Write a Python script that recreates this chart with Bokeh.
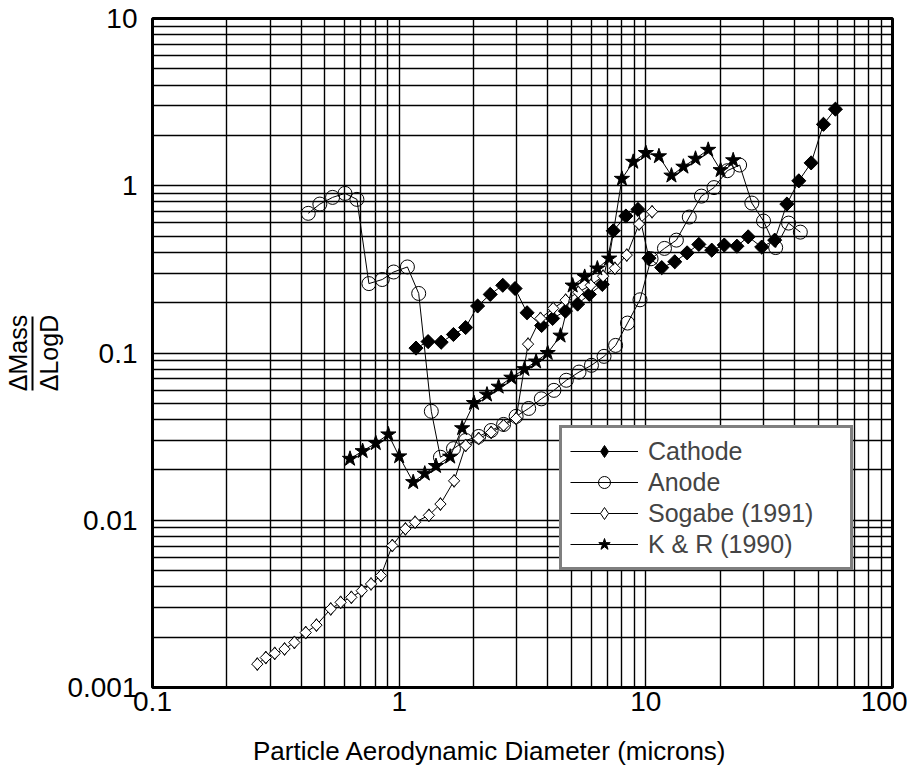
import numpy as np
from bokeh.plotting import figure
from bokeh.models import (Legend, LegendItem, CustomJSTickFormatter, FixedTicker, LogAxis)
from bokeh.embed import file_html
from bokeh.resources import INLINE

# ---------------- data ----------------
cathode_d = [1.17, 1.31, 1.48, 1.66, 1.86, 2.08, 2.34, 2.63, 2.95, 3.30, 3.78, 4.19,
             4.72, 5.29, 5.90, 6.66, 7.38, 8.30, 9.29, 10.3, 11.6, 13.1, 14.7, 16.4,
             18.5, 20.8, 23.4, 26.0, 29.5, 33.3, 37.3, 41.7, 46.8, 52.5, 58.7]
cathode_v = [0.107, 0.117, 0.116, 0.129, 0.142, 0.191, 0.224, 0.254, 0.243, 0.174, 0.146, 0.161,
             0.178, 0.196, 0.224, 0.257, 0.538, 0.659, 0.722, 0.369, 0.324, 0.351, 0.397, 0.446,
             0.412, 0.442, 0.435, 0.495, 0.430, 0.473, 0.777, 1.07, 1.37, 2.33, 2.87]

anode_d = [0.428, 0.477, 0.537, 0.603, 0.674, 0.754, 0.854, 0.950, 1.08, 1.20, 1.35, 1.47,
           1.66, 1.86, 2.10, 2.36, 2.65, 2.98, 3.35, 3.77, 4.24, 4.76, 5.36, 6.02, 6.77,
           7.54, 8.43, 9.47, 10.5, 11.9, 13.3, 15.0, 16.8, 18.9, 21.4, 24.0, 26.9, 30.0,
           33.6, 37.9, 42.3]
anode_v = [0.684, 0.777, 0.852, 0.900, 0.829, 0.260, 0.275, 0.305, 0.327, 0.227, 0.0448, 0.0238,
           0.0268, 0.0300, 0.0317, 0.0344, 0.0374, 0.0418, 0.0466, 0.0532, 0.0598, 0.0687, 0.0769,
           0.0844, 0.0955, 0.111, 0.151, 0.208, 0.366, 0.422, 0.473, 0.650, 0.867, 0.975, 1.23,
           1.33, 0.788, 0.615, 0.427, 0.598, 0.528]

sogabe_d = [0.266, 0.288, 0.313, 0.343, 0.376, 0.418, 0.462, 0.528, 0.579, 0.640, 0.705, 0.769,
            0.844, 0.938, 1.06, 1.16, 1.32, 1.47, 1.67, 1.86, 2.10, 2.36, 2.65, 2.98, 3.33,
            3.74, 4.21, 4.73, 5.32, 5.98, 6.71, 7.49, 8.37, 9.39, 10.6]
sogabe_v = [0.00138, 0.00151, 0.00160, 0.00170, 0.00186, 0.00213, 0.00236, 0.00295, 0.00323,
            0.00346, 0.00379, 0.00416, 0.00467, 0.00706, 0.00888, 0.00973, 0.0107, 0.0125,
            0.0172, 0.028, 0.0308, 0.0335, 0.0369, 0.0406, 0.113, 0.161, 0.185, 0.207, 0.231,
            0.254, 0.288, 0.321, 0.385, 0.59, 0.699]

kr_d = [0.632, 0.711, 0.804, 0.904, 1.00, 1.14, 1.27, 1.41, 1.61, 1.80, 2.01, 2.27, 2.53,
        2.85, 3.22, 3.59, 4.00, 4.51, 5.05, 5.65, 6.36, 7.10, 8.00, 8.89, 10.0, 11.3, 12.7,
        14.2, 15.9, 17.9, 20.1, 22.6]
kr_v = [0.0233, 0.0259, 0.0289, 0.0326, 0.0241, 0.0169, 0.0190, 0.0211, 0.0240, 0.0355, 0.0502,
        0.0564, 0.0629, 0.0712, 0.0801, 0.0889, 0.100, 0.127, 0.253, 0.285, 0.320, 0.367, 1.10,
        1.39, 1.57, 1.50, 1.15, 1.30, 1.45, 1.64, 1.24, 1.42]

x_major = [0.1, 1, 10, 100]
y_major = [0.001, 0.01, 0.1, 1, 10]
x_label = "Particle Aerodynamic Diameter (microns)"
y_label_top = "\u0394Mass"
y_label_bottom = "\u0394LogD"
series_names = ["Cathode", "Anode", "Sogabe (1991)", "K & R (1990)"]

FONT = "Liberation Sans"
NBSP = "\u00a0"

# ---------------- figure ----------------
p = figure(width=907, height=780, x_axis_type="log", y_axis_type="log",
           x_range=(0.1, 100), y_range=(0.001, 10),
           output_backend="svg", toolbar_location=None,
           min_border_left=150, min_border_right=15, min_border_top=18,
           min_border_bottom=93)
p.background_fill_color = "white"
p.border_fill_color = "white"
p.outline_line_color = "black"
p.outline_line_width = 3

x_minor = [m * 10.0 ** k for k in range(-1, 2) for m in range(2, 10)]
y_minor = [m * 10.0 ** k for k in range(-3, 1) for m in range(2, 10)]
p.xaxis.ticker = FixedTicker(ticks=x_major, minor_ticks=x_minor)
p.yaxis.ticker = FixedTicker(ticks=y_major, minor_ticks=y_minor)
fmt = CustomJSTickFormatter(code="return Number(tick.toPrecision(3)).toString();")
p.xaxis.formatter = fmt
p.yaxis.formatter = fmt

for ax in (p.xaxis, p.yaxis):
    ax.axis_line_color = None
    ax.major_tick_line_color = None
    ax.minor_tick_line_color = None
    ax.major_tick_out = 0
    ax.minor_tick_out = 0
    ax.major_label_text_font = FONT
    ax.major_label_text_font_size = "28px"
    ax.major_label_text_color = "black"
    ax.axis_label_text_font = FONT
    ax.axis_label_text_font_style = "normal"
    ax.axis_label_text_color = "black"
p.xaxis.major_label_standoff = 4
p.yaxis.major_label_standoff = 15

# x title (shifted a little left, as in the original)
p.xaxis.axis_label = x_label + NBSP * 9
p.xaxis.axis_label_text_font_size = "26px"
p.xaxis.axis_label_standoff = 22

# y title: denominator on the main axis, numerator + fraction bar on an extra axis
p.yaxis.axis_label = y_label_bottom
p.yaxis.axis_label_text_font_size = "25px"
p.yaxis.axis_label_standoff = 1

num_axis = LogAxis(ticker=FixedTicker(ticks=[]), axis_label=y_label_top,
                   axis_label_text_font=FONT, axis_label_text_font_size="25px",
                   axis_label_text_font_style="normal", axis_label_text_color="black",
                   axis_label_standoff=1, major_tick_out=0, major_tick_in=0,
                   minor_tick_out=0, minor_tick_in=0, major_label_standoff=0,
                   axis_line_color="black", axis_line_width=2,
                   bounds=(0.0597, 0.165))
p.add_layout(num_axis, "left")

for g in (p.xgrid, p.ygrid):
    g.grid_line_color = "black"
    g.grid_line_width = 1.4
    g.grid_line_alpha = 1.0
    g.minor_grid_line_color = "black"
    g.minor_grid_line_width = 1.4
    g.minor_grid_line_alpha = 1.0

# ---------------- series ----------------
# narrow diamonds (hidden under the plot markers) give the legend its diamond glyphs
cd_leg = p.scatter(cathode_d, cathode_v, marker="diamond", size=13,
                   fill_color="black", line_color="black")
sd_leg = p.scatter(sogabe_d, sogabe_v, marker="diamond", size=13,
                   fill_color="white", line_color="black", line_width=1)

lc = p.line(cathode_d, cathode_v, line_color="black", line_width=1)
sc = p.scatter(cathode_d, cathode_v, marker="square", angle=np.pi / 4, size=10,
               fill_color="black", line_color="black")
la = p.line(anode_d, anode_v, line_color="black", line_width=1)
sa = p.scatter(anode_d, anode_v, marker="circle", size=14,
               fill_color=None, line_color="black", line_width=1)
ls = p.line(sogabe_d, sogabe_v, line_color="black", line_width=1)
ss = p.scatter(sogabe_d, sogabe_v, marker="square", angle=np.pi / 4, size=8,
               fill_color="white", line_color="black", line_width=1)
lk = p.line(kr_d, kr_v, line_color="black", line_width=1)
sk = p.scatter(kr_d, kr_v, marker="star", size=16,
               fill_color="black", line_color="black")

legend = Legend(items=[LegendItem(label=series_names[0], renderers=[lc, cd_leg]),
                       LegendItem(label=series_names[1], renderers=[la, sa]),
                       LegendItem(label=series_names[2], renderers=[ls, sd_leg]),
                       LegendItem(label=series_names[3], renderers=[lk, sk])],
                location=(407, 117))
legend.border_line_color = "black"
legend.border_line_width = 3
legend.background_fill_color = "white"
legend.background_fill_alpha = 1.0
legend.label_text_font = FONT
legend.label_text_font_size = "25px"
legend.label_height = 30
legend.glyph_height = 30
legend.glyph_width = 68
legend.label_width = 194
legend.label_standoff = 10
legend.spacing = 1
legend.padding = 8
legend.margin = 0
p.add_layout(legend)

open("out.html", "w").write(file_html(p, INLINE))
